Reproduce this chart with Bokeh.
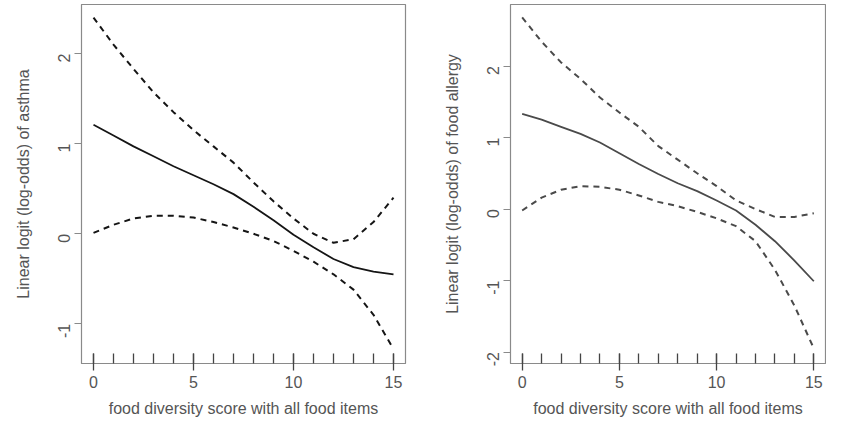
import math
from bokeh.plotting import figure
from bokeh.layouts import row
from bokeh.models import FixedTicker
from bokeh.embed import file_html
from bokeh.resources import INLINE

# ---- data ----
x_score = list(range(16))

asthma_fit = [1.21, 1.09, 0.97, 0.86, 0.75, 0.65, 0.55, 0.44, 0.30, 0.15,
              -0.01, -0.15, -0.28, -0.37, -0.42, -0.45]
asthma_upper = [2.40, 2.10, 1.83, 1.57, 1.35, 1.15, 0.97, 0.79, 0.57, 0.36,
                0.17, 0.00, -0.10, -0.06, 0.13, 0.40]
asthma_lower = [0.01, 0.10, 0.17, 0.20, 0.20, 0.18, 0.13, 0.07, 0.00, -0.08,
                -0.19, -0.31, -0.45, -0.62, -0.90, -1.28]

allergy_fit = [1.33, 1.25, 1.15, 1.05, 0.93, 0.78, 0.63, 0.49, 0.36, 0.25,
               0.12, -0.02, -0.22, -0.45, -0.72, -1.01]
allergy_upper = [2.68, 2.34, 2.05, 1.82, 1.56, 1.35, 1.15, 0.88, 0.69, 0.50,
                 0.32, 0.12, 0.00, -0.11, -0.11, -0.06]
allergy_lower = [-0.02, 0.16, 0.27, 0.32, 0.31, 0.27, 0.19, 0.10, 0.04, -0.04,
                 -0.13, -0.24, -0.45, -0.85, -1.35, -1.95]

rug_x = list(range(16))
x_ticks = [0, 5, 10, 15]
y_ticks_asthma = [-1, 0, 1, 2]
y_ticks_allergy = [-2, -1, 0, 1, 2]

x_title = "food diversity score with all food items"
y_title_asthma = "Linear logit (log-odds) of asthma"
y_title_allergy = "Linear logit (log-odds) of food allergy"

FONT = "Liberation Sans"
TEXT = "#555555"
BOX = "#8a8a8a"
TICK = "#444444"


def panel(width, border_left, border_right, y_range, y_ticks, y_title,
          fit, upper, lower, line_color):
    p = figure(width=width, height=420, x_range=(-0.6, 15.6), y_range=y_range,
               output_backend="svg", toolbar_location=None,
               min_border_left=border_left, min_border_right=border_right,
               min_border_top=4, min_border_bottom=57)
    p.grid.visible = False
    p.outline_line_color = BOX
    p.outline_line_width = 1.2
    p.background_fill_color = "white"
    p.border_fill_color = "white"

    p.line(x_score, fit, line_color=line_color, line_width=1.8, line_join="round")
    p.line(x_score, upper, line_color=line_color, line_width=2,
           line_dash="6 5", line_join="round")
    p.line(x_score, lower, line_color=line_color, line_width=2,
           line_dash="6 5", line_join="round")

    xa = p.xaxis[0]
    xa.ticker = FixedTicker(ticks=x_ticks, minor_ticks=rug_x)
    xa.axis_line_color = BOX
    xa.major_tick_line_color = TICK
    xa.minor_tick_line_color = TICK
    xa.major_tick_line_width = 1.3
    xa.minor_tick_line_width = 1.3
    xa.major_tick_in = 10
    xa.major_tick_out = 7
    xa.minor_tick_in = 10
    xa.minor_tick_out = 0
    xa.major_label_standoff = 5
    xa.major_label_text_font = FONT
    xa.major_label_text_font_size = "16px"
    xa.major_label_text_color = TEXT
    xa.axis_label = x_title
    xa.axis_label_text_font = FONT
    xa.axis_label_text_font_size = "16px"
    xa.axis_label_text_font_style = "normal"
    xa.axis_label_text_color = TEXT
    xa.axis_label_standoff = 9

    ya = p.yaxis[0]
    ya.ticker = FixedTicker(ticks=y_ticks, minor_ticks=[])
    ya.major_label_overrides = {t: str(t) for t in y_ticks}
    ya.major_label_orientation = math.pi / 2
    ya.axis_line_color = BOX
    ya.major_tick_line_color = BOX
    ya.major_tick_line_width = 1.2
    ya.major_tick_in = 0
    ya.major_tick_out = 7
    ya.minor_tick_line_color = None
    ya.major_label_standoff = 10
    ya.major_label_text_font = FONT
    ya.major_label_text_font_size = "16px"
    ya.major_label_text_color = TEXT
    ya.axis_label = y_title
    ya.axis_label_text_font = FONT
    ya.axis_label_text_font_size = "16px"
    ya.axis_label_text_font_style = "normal"
    ya.axis_label_text_color = TEXT
    ya.axis_label_standoff = 18
    return p


p1 = panel(430, 81, 25, (-1.44, 2.545), y_ticks_asthma, y_title_asthma,
           asthma_fit, asthma_upper, asthma_lower, "#151515")
p2 = panel(396, 80, 1, (-2.16, 2.86), y_ticks_allergy, y_title_allergy,
           allergy_fit, allergy_upper, allergy_lower, "#4a4a4a")

layout = row(p1, p2, spacing=0)
open("out.html", "w").write(file_html(layout, INLINE))
